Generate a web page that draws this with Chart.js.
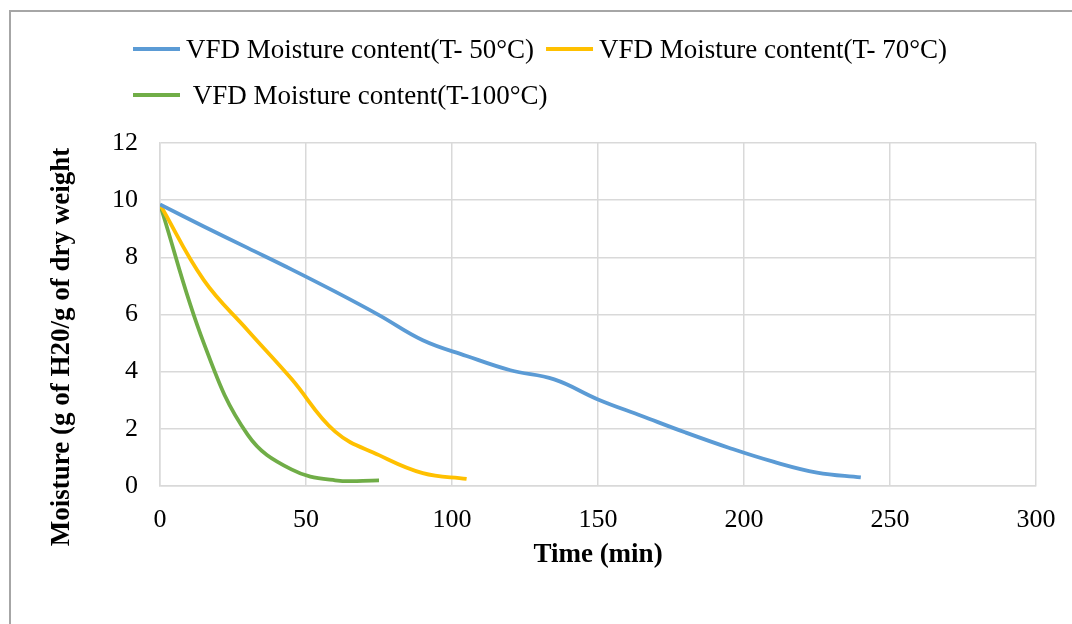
<!DOCTYPE html>
<html>
<head>
<meta charset="utf-8">
<script src="https://cdn.jsdelivr.net/npm/chart.js@4.4.1/dist/chart.umd.min.js"></script>
<style>
  html, body { margin: 0; padding: 0; background: #fff; overflow: hidden; }
  #wrap { position: relative; width: 1072px; height: 624px; overflow: hidden; }
  #frame { position: absolute; left: 9px; top: 10px; width: 1100px; height: 700px;
           border-top: 2px solid #a6a6a6; border-left: 2px solid #a6a6a6; }
  canvas { position: absolute; left: 0; top: 0; }
</style>
</head>
<body>
<div id="wrap">
  <div id="frame"></div>
  <canvas id="myChart" width="1072" height="624"></canvas>
</div>
<script>
// data
const labels = [
  "VFD Moisture content(T- 50°C)",
  "VFD Moisture content(T- 70°C)",
  " VFD Moisture content(T-100°C)"
];
const time50 = [0, 15, 30, 45, 60, 75, 90, 105, 120, 135, 150, 165, 180, 195, 210, 225, 240];
const moisture50 = [9.85, 9.08, 8.33, 7.58, 6.8, 5.98, 5.1, 4.55, 4.05, 3.73, 3.03, 2.45, 1.87, 1.33, 0.85, 0.47, 0.3];
const time70 = [0, 15, 30, 45, 60, 75, 90, 105];
const moisture70 = [9.85, 7.2, 5.45, 3.75, 1.9, 1.08, 0.45, 0.25];
const time100 = [0, 15, 30, 45, 60, 75];
const moisture100 = [9.85, 5.0, 1.8, 0.58, 0.2, 0.2];
const xTicks = [0, 50, 100, 150, 200, 250, 300];
const yTicks = [0, 2, 4, 6, 8, 10, 12];
const colors = ["#5B9BD5", "#FFC000", "#70AD47"];

const yTitle = "Moisture (g of H20/g of dry weight";
const xTitle = "Time (min)";

function toPoints(xs, ys) {
  return xs.map((x, i) => ({ x: x, y: ys[i] }));
}

const legendRows = [[0, 1], [2]];

// legend drawn in two rows like the original
const rowLegend = {
  id: "rowLegend",
  afterDraw(chart) {
    const ctx = chart.ctx;
    const ds = chart.data.datasets;
    ctx.save();
    ctx.font = '27px "Liberation Serif"';
    ctx.textBaseline = "middle";
    ctx.fillStyle = "#000";
    legendRows.forEach((row, r) => {
      let x = 133;
      const y = 49 + r * 46;
      row.forEach((i) => {
        ctx.strokeStyle = ds[i].borderColor;
        ctx.lineWidth = 3.8;
        ctx.beginPath();
        ctx.moveTo(x, y);
        ctx.lineTo(x + 47, y);
        ctx.stroke();
        const tx = x + 53;
        ctx.fillText(ds[i].label, tx, y + 2);
        x = tx + ctx.measureText(ds[i].label).width + 12;
      });
    });
    ctx.restore();
  }
};

// y title sits lower than the plot centre in the original
const sideTitle = {
  id: "sideTitle",
  afterDraw(chart) {
    const ctx = chart.ctx;
    ctx.save();
    ctx.translate(62, 347);
    ctx.rotate(-Math.PI / 2);
    ctx.font = 'bold 27px "Liberation Serif"';
    ctx.textAlign = "center";
    ctx.textBaseline = "middle";
    ctx.fillStyle = "#000";
    ctx.fillText(yTitle, 0, 0);
    ctx.restore();
  }
};

const ctx = document.getElementById("myChart").getContext("2d");
const myChart = new Chart(ctx, {
  type: "line",
  data: {
    datasets: [
      { label: labels[0], data: toPoints(time50, moisture50), borderColor: colors[0], backgroundColor: colors[0] },
      { label: labels[1], data: toPoints(time70, moisture70), borderColor: colors[1], backgroundColor: colors[1] },
      { label: labels[2], data: toPoints(time100, moisture100), borderColor: colors[2], backgroundColor: colors[2] }
    ]
  },
  options: {
    responsive: false,
    animation: false,
    devicePixelRatio: 1,
    elements: {
      line: { borderWidth: 3.8, tension: 0.4, fill: false, borderCapStyle: "butt" },
      point: { radius: 0, hoverRadius: 0 }
    },
    layout: { padding: { top: 143, right: 36, left: 0, bottom: 0 } },
    plugins: {
      legend: { display: false },
      tooltip: { enabled: false }
    },
    scales: {
      x: {
        type: "linear",
        min: 0,
        max: 300,
        afterBuildTicks: (scale) => { scale.ticks = xTicks.map((v) => ({ value: v })); },
        afterFit: (scale) => {
          scale.height = 624 - 486;
          scale.paddingLeft = 0;
          scale.paddingRight = 0;
        },
        grid: { color: "#d9d9d9", lineWidth: 1.5, drawTicks: false },
        border: { color: "#d9d9d9", width: 1.5 },
        ticks: { color: "#000", padding: 19, maxRotation: 0, font: { family: "Liberation Serif", size: 26 } },
        title: {
          display: true,
          text: xTitle,
          color: "#000",
          font: { family: "Liberation Serif", size: 27, weight: "bold" },
          padding: { top: 0, bottom: 53 }
        }
      },
      y: {
        min: 0,
        max: 12,
        afterBuildTicks: (scale) => { scale.ticks = yTicks.map((v) => ({ value: v })); },
        afterFit: (scale) => { scale.width = 160; },
        grid: { color: "#d9d9d9", lineWidth: 1.5, drawTicks: false },
        border: { color: "#d9d9d9", width: 1.5 },
        ticks: { color: "#000", padding: 22, font: { family: "Liberation Serif", size: 26 } }
      }
    }
  },
  plugins: [rowLegend, sideTitle]
});
</script>
</body>
</html>
